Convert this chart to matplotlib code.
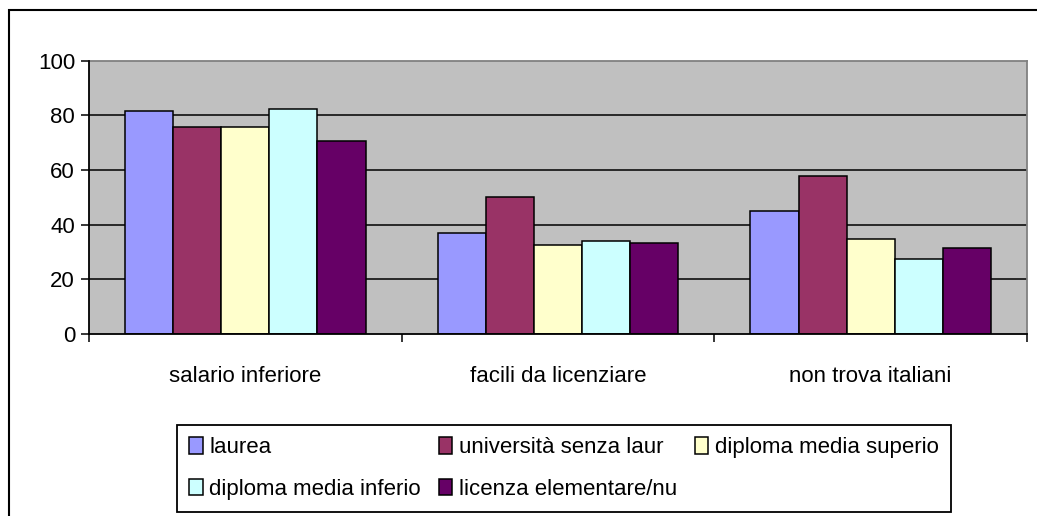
import matplotlib
matplotlib.use("Agg")
import matplotlib.pyplot as plt
import matplotlib.patches as mpatches
import numpy as np

plt.rcParams['font.family'] = ['Liberation Sans', 'DejaVu Sans']

categories = ["salario inferiore", "facili da licenziare", "non trova italiani"]
series_names = ["laurea", "università senza laur", "diploma media superio",
                "diploma media inferio", "licenza elementare/nu"]
laurea = [81.7, 37.1, 45.1]
universita = [75.9, 50.2, 57.8]
diploma_sup = [75.9, 32.7, 34.9]
diploma_inf = [82.4, 34.1, 27.6]
licenza = [70.7, 33.4, 31.3]
series_values = [laurea, universita, diploma_sup, diploma_inf, licenza]
colors = ["#9999FF", "#993366", "#FFFFCC", "#CCFFFF", "#660066"]
yticks = [0, 20, 40, 60, 80, 100]

W, H = 1037, 516
fig = plt.figure(figsize=(W / 100, H / 100), dpi=100)
ax = fig.add_axes([89 / W, 1 - 334 / H, (1027 - 89) / W, (334 - 60.7) / H])
ax.set_facecolor("#C0C0C0")

x = np.arange(len(categories))
n = len(series_names)
bw = 1 / (n + 1.5)
handles = []
for i, (name, vals, c) in enumerate(zip(series_names, series_values, colors)):
    b = ax.bar(x + (i - (n - 1) / 2) * bw, vals, width=bw, color=c,
               edgecolor="black", linewidth=1.1, label=name, zorder=3)
    handles.append(b)

ax.set_xlim(-0.5, len(categories) - 0.5)
ax.set_ylim(0, 100)
ax.set_yticks(yticks)
ax.set_yticklabels([str(t) for t in yticks], fontsize=16)
for t in yticks[1:-1]:
    ax.axhline(t, color="black", linewidth=1.1, zorder=1)

ax.set_xticks(x)
ax.set_xticklabels(categories, fontsize=16)
ax.set_xticks(np.arange(len(categories) + 1) - 0.5, minor=True)
ax.tick_params(axis="x", which="major", length=0, pad=23)
ax.tick_params(axis="x", which="minor", length=6, width=1.1, direction="out", color="black")
ax.tick_params(axis="y", which="major", length=6, width=1.1, direction="out", pad=4, color="black")

for s in ["left", "bottom"]:
    ax.spines[s].set_color("black")
    ax.spines[s].set_linewidth(1.3)
    ax.spines[s].set_zorder(4)
for s in ["top", "right"]:
    ax.spines[s].set_color("#808080")
    ax.spines[s].set_linewidth(1.3)

# legend in row-major order (matplotlib fills columns first)
order = [0, 3, 1, 4, 2]
leg = fig.legend([handles[k] for k in order], [series_names[k] for k in order],
                 ncol=3, loc="upper left", bbox_to_anchor=(177 / W, 1 - 425 / H),
                 bbox_transform=fig.transFigure, borderaxespad=0,
                 fontsize=16, frameon=True, fancybox=False, shadow=False,
                 handlelength=0.6, handleheight=0.75, handletextpad=0.3,
                 columnspacing=0.8, labelspacing=0.93, borderpad=0.55)
leg.get_frame().set_edgecolor("black")
leg.get_frame().set_linewidth(1.3)
leg.get_frame().set_alpha(1)

# outer chart frame (extends past the right and bottom edges)
frame = mpatches.Rectangle((9 / W, -0.2), 1.2, 1 - 10 / H + 0.2,
                           transform=fig.transFigure, fill=False,
                           edgecolor="black", linewidth=1.5)
fig.patches.append(frame)

fig.savefig("out.png", dpi=100)
